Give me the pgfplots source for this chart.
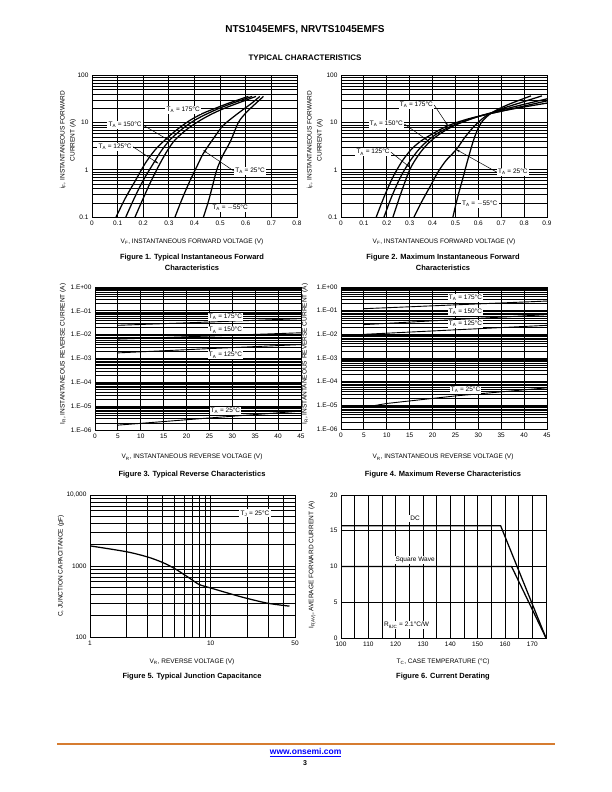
\documentclass[border=0pt]{standalone}
\usepackage{fontspec}
\setmainfont{Liberation Sans}
\usepackage{pgfplots}
\pgfplotsset{compat=1.18}
\usetikzlibrary{arrows.meta}
\newcommand{\tlf}{\fontsize{6.5}{7.5}\selectfont}
\newcommand{\capf}{\fontsize{7.5}{11}\selectfont\bfseries}
\pgfplotsset{
  ds/.style={scale only axis, anchor=south west,
    axis line style={line width=0.9pt},
    grid=both,
    major grid style={line width=0.8pt, black},
    minor grid style={line width=0.55pt, black},
    major tick length=0pt, minor tick length=0pt,
    tick label style={font=\tlf},
  },
  crv/.style={black, line width=1.25pt, no marks, smooth},
  rl/.style={black, line width=0.9pt, no marks},
}
\tikzset{
  lab/.style={fill=white, inner sep=1.2pt, font=\tlf},
  arr/.style={-{Stealth[length=3.5pt,width=2.2pt]}, line width=0.5pt},
}
\begin{document}
\begin{tikzpicture}
\fill[white] (0pt,0pt) rectangle (612pt,792pt);
\path[use as bounding box] (0pt,0pt) rectangle (612pt,792pt);

% header
\node[font=\fontsize{10}{12}\selectfont\bfseries] at (305pt,762pt) {NTS1045EMFS, NRVTS1045EMFS};
\node[font=\fontsize{8}{10}\selectfont\bfseries] at (305pt,734.3pt) {TYPICAL CHARACTERISTICS};

% ---------------- Figure 1 ----------------
\begin{axis}[ds, at={(92pt,575pt)}, width=205pt, height=141.5pt,
  xmin=0, xmax=0.8, ymode=log, ymin=0.1, ymax=100,
  xtick={0,0.1,0.2,0.3,0.4,0.5,0.6,0.7,0.8},
  xticklabels={0,0.1,0.2,0.3,0.4,0.5,0.6,0.7,0.8},
  ytick={0.1,1,10,100}, yticklabels={0.1,1,10,100},
  minor ytick={0.2,0.3,0.4,0.5,0.6,0.7,0.8,0.9,2,3,4,5,6,7,8,9,20,30,40,50,60,70,80,90},
]
\addplot[crv] coordinates {(0.094,0.1) (0.13,0.25) (0.17,0.6) (0.207,1.35) (0.245,2.6) (0.285,4.3) (0.33,7) (0.38,11) (0.43,15.5) (0.48,20) (0.53,25.5) (0.61,36)};
\addplot[crv] coordinates {(0.132,0.1) (0.165,0.25) (0.2,0.6) (0.239,1.35) (0.27,2.5) (0.304,4.3) (0.35,7.2) (0.4,11.2) (0.45,15.5) (0.5,20.5) (0.55,26) (0.625,36)};
\addplot[crv] coordinates {(0.168,0.1) (0.2,0.25) (0.232,0.6) (0.265,1.35) (0.295,2.6) (0.324,4.3) (0.37,7.2) (0.42,11) (0.47,15.5) (0.52,20.5) (0.57,26) (0.64,36)};
\addplot[crv] coordinates {(0.324,0.1) (0.35,0.23) (0.38,0.55) (0.41,1.2) (0.434,2.2) (0.47,4.3) (0.51,8.5) (0.55,13) (0.59,19) (0.62,25) (0.655,36)};
\addplot[crv] coordinates {(0.435,0.1) (0.455,0.22) (0.47,0.45) (0.487,1.0) (0.51,2.0) (0.54,4) (0.571,10) (0.6,16) (0.63,23) (0.669,36)};
\node[lab] at (axis cs:0.356,18.6) {T\textsubscript{A} = 175°C};
\node[lab] (a) at (axis cs:0.129,8.9) {T\textsubscript{A} = 150°C};
\draw[arr] (a.east) -- (axis cs:0.298,4.3);
\node[lab] (b) at (axis cs:0.09,3.08) {T\textsubscript{A} = 125°C};
\draw[arr] (b.east) -- (axis cs:0.259,1.36);
\node[lab] (c) at (axis cs:0.617,0.94) {T\textsubscript{A} = 25°C};
\draw[arr] (c.west) -- (axis cs:0.434,2.6);
\node[lab] at (axis cs:0.539,0.155) {T\textsubscript{A} = $-$55°C};
\end{axis}
\node[rotate=90, font=\fontsize{6.5}{10}\selectfont, align=center] at (68pt,652pt) {i\textsubscript{F}, INSTANTANEOUS FORWARD\\CURRENT (A)};
\node[font=\tlf] at (192pt,550.3pt) {V\textsubscript{F}, INSTANTANEOUS FORWARD VOLTAGE (V)};
\node[font=\capf, align=center] at (192pt,529.8pt) {Figure 1. Typical Instantaneous Forward\\Characteristics};

% ---------------- Figure 2 ----------------
\begin{axis}[ds, at={(341pt,575pt)}, width=206pt, height=141.5pt,
  xmin=0, xmax=0.9, ymode=log, ymin=0.1, ymax=100,
  xtick={0,0.1,0.2,0.3,0.4,0.5,0.6,0.7,0.8,0.9},
  xticklabels={0,0.1,0.2,0.3,0.4,0.5,0.6,0.7,0.8,0.9},
  ytick={0.1,1,10,100}, yticklabels={0.1,1,10,100},
  minor ytick={0.2,0.3,0.4,0.5,0.6,0.7,0.8,0.9,2,3,4,5,6,7,8,9,20,30,40,50,60,70,80,90},
]
\addplot[crv] coordinates {(0.154,0.1) (0.19,0.28) (0.23,0.75) (0.27,1.6) (0.31,2.8) (0.35,4.1) (0.4,5.8) (0.467,8.6) (0.55,11.8) (0.65,15.5) (0.75,19.5) (0.9,26)};
\addplot[crv] coordinates {(0.188,0.1) (0.22,0.26) (0.26,0.7) (0.3,1.5) (0.34,2.7) (0.38,4.2) (0.43,6.3) (0.5,9.2) (0.6,13.5) (0.7,17.5) (0.8,22.5) (0.9,29)};
\addplot[crv] coordinates {(0.227,0.1) (0.26,0.3) (0.3,1.0) (0.34,2.1) (0.38,3.6) (0.43,5.7) (0.5,8.9) (0.6,13.5) (0.7,18.5) (0.8,24.5) (0.9,32)};
\addplot[crv] coordinates {(0.319,0.1) (0.35,0.2) (0.39,0.45) (0.424,0.9) (0.46,1.6) (0.504,2.7) (0.54,4.8) (0.584,8.6) (0.635,14) (0.7,19.5) (0.8,28) (0.878,37)};
\addplot[crv] coordinates {(0.489,0.1) (0.5,0.17) (0.515,0.33) (0.53,0.6) (0.555,1.7) (0.584,5.0) (0.613,10) (0.657,16) (0.72,23) (0.78,30) (0.83,37)};
\node[lab] (a) at (axis cs:0.329,23.6) {T\textsubscript{A} = 175°C};
\draw[arr] (a.east) -- (axis cs:0.467,8.65);
\node[lab] (b) at (axis cs:0.198,9.38) {T\textsubscript{A} = 150°C};
\draw[arr] (b.east) -- (axis cs:0.38,4.17);
\node[lab] (c) at (axis cs:0.14,2.36) {T\textsubscript{A} = 125°C};
\draw[arr] (c.east) -- (axis cs:0.3,1.14);
\node[lab] (d) at (axis cs:0.751,0.893) {T\textsubscript{A} = 25°C};
\draw[arr] (d.west) -- (axis cs:0.504,2.69);
\node[lab] at (axis cs:0.606,0.191) {T\textsubscript{A} = $-$55°C};
\end{axis}
\node[rotate=90, font=\fontsize{6.5}{10}\selectfont, align=center] at (315pt,652pt) {i\textsubscript{F}, INSTANTANEOUS FORWARD\\CURRENT (A)};
\node[font=\tlf] at (444pt,550.3pt) {V\textsubscript{F}, INSTANTANEOUS FORWARD VOLTAGE (V)};
\node[font=\capf, align=center] at (443pt,529.8pt) {Figure 2. Maximum Instantaneous Forward\\Characteristics};

% ---------------- Figure 3 ----------------
\begin{axis}[ds, at={(95pt,362pt)}, width=206pt, height=143pt,
  xmin=0, xmax=45, ymode=log, ymin=1e-6, ymax=1,
  xtick={0,5,10,15,20,25,30,35,40,45},
  xticklabels={0,5,10,15,20,25,30,35,40,45},
  ytick={1e-6,1e-5,1e-4,1e-3,1e-2,1e-1,1},
  yticklabels={1.E–06,1.E–05,1.E–04,1.E–03,1.E–02,1.E–01,1.E+00},
  minor ytick={2e-6,3e-6,4e-6,5e-6,6e-6,7e-6,8e-6,9e-6,2e-5,3e-5,4e-5,5e-5,6e-5,7e-5,8e-5,9e-5,2e-4,3e-4,4e-4,5e-4,6e-4,7e-4,8e-4,9e-4,2e-3,3e-3,4e-3,5e-3,6e-3,7e-3,8e-3,9e-3,0.02,0.03,0.04,0.05,0.06,0.07,0.08,0.09,0.2,0.3,0.4,0.5,0.6,0.7,0.8,0.9},
]
\addplot[rl] coordinates {(5,0.0247) (25,0.034) (45,0.047)};
\addplot[rl] coordinates {(5,0.0065) (25,0.0088) (45,0.012)};
\addplot[rl] coordinates {(5,0.00172) (25,0.0026) (45,0.00384)};
\addplot[rl] coordinates {(5,1.6e-6) (25,3.2e-6) (45,6.2e-6)};
\node[lab] at (axis cs:28.5,0.055) {T\textsubscript{A} = 175°C};
\node[lab] at (axis cs:28.5,0.0153) {T\textsubscript{A} = 150°C};
\node[lab] at (axis cs:28.5,1.37e-3) {T\textsubscript{A} = 125°C};
\node[lab] at (axis cs:28.5,6.5e-6) {T\textsubscript{A} = 25°C};
\end{axis}
\node[rotate=90, font=\tlf] at (63pt,438pt) {I\textsubscript{R}, INSTANTANEOUS REVERSE CURRENT (A)};
\node[font=\tlf] at (192pt,334.7pt) {V\textsubscript{R}, INSTANTANEOUS REVERSE VOLTAGE (V)};
\node[font=\capf] at (192pt,317pt) {Figure 3. Typical Reverse Characteristics};

% ---------------- Figure 4 ----------------
\begin{axis}[ds, at={(341pt,363pt)}, width=206pt, height=142pt,
  xmin=0, xmax=45, ymode=log, ymin=1e-6, ymax=1,
  xtick={0,5,10,15,20,25,30,35,40,45},
  xticklabels={0,5,10,15,20,25,30,35,40,45},
  ytick={1e-6,1e-5,1e-4,1e-3,1e-2,1e-1,1},
  yticklabels={1.E–06,1.E–05,1.E–04,1.E–03,1.E–02,1.E–01,1.E+00},
  minor ytick={2e-6,3e-6,4e-6,5e-6,6e-6,7e-6,8e-6,9e-6,2e-5,3e-5,4e-5,5e-5,6e-5,7e-5,8e-5,9e-5,2e-4,3e-4,4e-4,5e-4,6e-4,7e-4,8e-4,9e-4,2e-3,3e-3,4e-3,5e-3,6e-3,7e-3,8e-3,9e-3,0.02,0.03,0.04,0.05,0.06,0.07,0.08,0.09,0.2,0.3,0.4,0.5,0.6,0.7,0.8,0.9},
]
\addplot[rl] coordinates {(5,0.121) (25,0.176) (45,0.255)};
\addplot[rl] coordinates {(5,0.0257) (25,0.042) (45,0.068)};
\addplot[rl] coordinates {(5,0.0100) (25,0.0155) (45,0.024)};
\addplot[rl] coordinates {(5,8.2e-6) (10,1.2e-5) (25,2.5e-5) (45,5.5e-5)};
\node[lab] at (axis cs:27.2,0.34) {T\textsubscript{A} = 175°C};
\node[lab] at (axis cs:27.2,0.087) {T\textsubscript{A} = 150°C};
\node[lab] at (axis cs:27.2,0.028) {T\textsubscript{A} = 125°C};
\node[lab] at (axis cs:27.2,4.4e-5) {T\textsubscript{A} = 25°C};
\end{axis}
\node[rotate=90, font=\tlf] at (305pt,438pt) {I\textsubscript{R}, INSTANTANEOUS REVERSE CURRENT (A)};
\node[font=\tlf] at (443pt,334.7pt) {V\textsubscript{R}, INSTANTANEOUS REVERSE VOLTAGE (V)};
\node[font=\capf] at (443pt,317pt) {Figure 4. Maximum Reverse Characteristics};

% ---------------- Figure 5 ----------------
\begin{axis}[ds, at={(90pt,155pt)}, width=205pt, height=142pt,
  xmode=log, ymode=log, xmin=1, xmax=50, ymin=100, ymax=10000,
  xtick={1,10,50}, xticklabels={1,10,50},
  minor xtick={2,3,4,5,6,7,8,9,20,30,40},
  ytick={100,1000,10000}, yticklabels={100,1000,{10,000}},
  minor ytick={200,300,400,500,600,700,800,900,2000,3000,4000,5000,6000,7000,8000,9000},
]
\addplot[crv] coordinates {(1,1920) (2,1590) (3,1340) (4,1120) (5,925) (6,760) (7,640) (8,550) (10,490) (15,400) (20,350) (30,298) (45,272)};
\node[lab] at (axis cs:23.3,5520) {T\textsubscript{J} = 25°C};
\end{axis}
\node[rotate=90, font=\tlf] at (61pt,226pt) {C, JUNCTION CAPACITANCE (pF)};
\node[font=\tlf] at (192pt,130.3pt) {V\textsubscript{R}, REVERSE VOLTAGE (V)};
\node[font=\capf] at (192pt,115.3pt) {Figure 5. Typical Junction Capacitance};

% ---------------- Figure 6 ----------------
\begin{axis}[ds, at={(341pt,154pt)}, width=205pt, height=143pt,
  xmin=100, xmax=175, ymin=0, ymax=20,
  xtick={100,110,120,130,140,150,160,170},
  xticklabels={100,110,120,130,140,150,160,170},
  minor xtick={105,115,125,135,145,155,165},
  ytick={0,5,10,15,20}, yticklabels={0,5,10,15,20},
]
\addplot[black, line width=1.25pt] coordinates {(100,15.7) (158.4,15.7) (175,0)};
\addplot[black, line width=1.25pt] coordinates {(100,10) (162.4,10) (175,0)};
\node[lab] at (axis cs:127.1,16.7) {DC};
\node[lab] at (axis cs:127.1,10.9) {Square Wave};
\node[lab] at (axis cs:124,1.8) {R\textsubscript{θJC} = 2.1°C/W};
\end{axis}
\node[rotate=90, font=\tlf] at (312pt,227pt) {I\textsubscript{F(AV)}, AVERAGE FORWARD CURRENT (A)};
\node[font=\tlf] at (443pt,130.3pt) {T\textsubscript{C}, CASE TEMPERATURE (°C)};
\node[font=\capf] at (443pt,115.3pt) {Figure 6. Current Derating};

% footer
\draw[color={rgb,255:red,214;green,124;blue,48}, line width=1.5pt] (57pt,48pt) -- (555pt,48pt);
\node[font=\fontsize{8.5}{10}\selectfont\bfseries, text=blue] at (305.7pt,39.7pt) {\underline{www.onsemi.com}};
\node[font=\fontsize{7}{9}\selectfont\bfseries] at (305pt,29.3pt) {3};
\end{tikzpicture}
\end{document}
